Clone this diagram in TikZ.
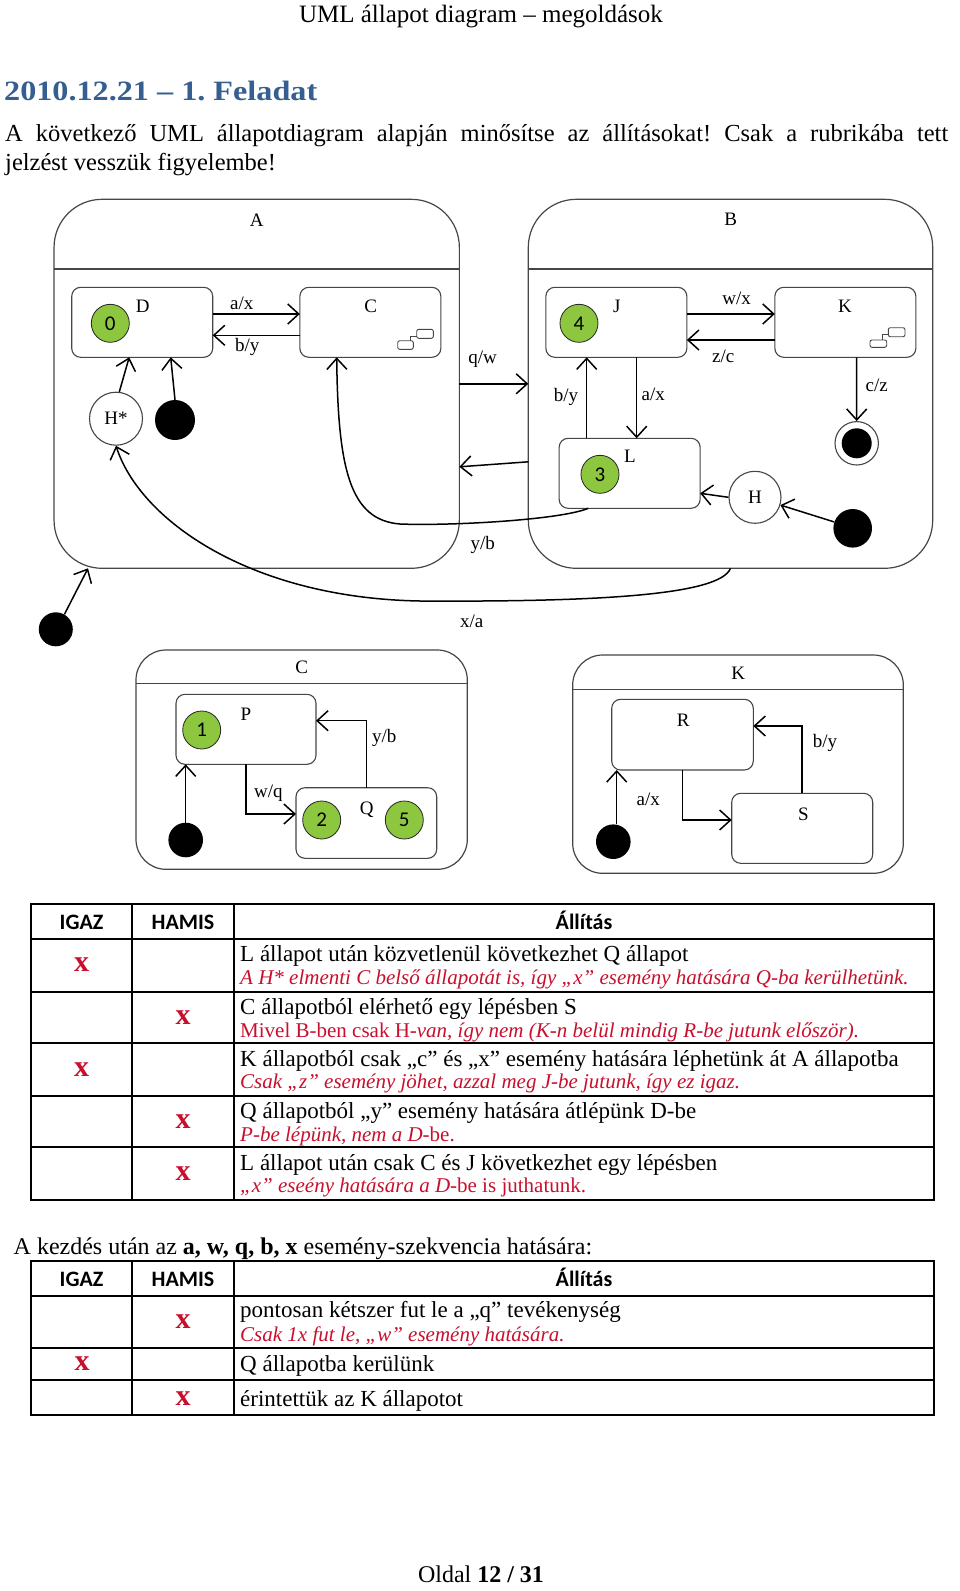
\documentclass[tikz,border=0pt]{standalone}
\usepackage{fontspec}
\setmainfont{Liberation Serif}
\newfontfamily\calib{Carlito}
\newfontfamily\titlef[FakeStretch=1.15]{Liberation Serif}
\usetikzlibrary{arrows.meta}
\newcommand\fsz[1]{\fontsize{#1pt}{#1pt}\selectfont}
\definecolor{ngreen}{RGB}{141,198,63}
\definecolor{xred}{RGB}{200,16,46}
\definecolor{tblue}{RGB}{54,95,145}
\definecolor{gline}{RGB}{70,70,70}
\frenchspacing
\begin{document}
\begin{tikzpicture}[x=1pt,y=-1pt,
  lbl/.style={inner sep=0pt, font=\fsz{19}},
  sbox/.style={draw=gline, line width=1.1pt, rounded corners=9pt, inner sep=0pt, outer sep=0pt, minimum width=141pt, minimum height=70pt},
  obox/.style={draw=gline, line width=1.2pt, rounded corners=#1, inner sep=0pt, outer sep=0pt},
  sep/.style={draw=gline, line width=1.2pt},
  num/.style={circle, draw=black!85, line width=0.8pt, fill=ngreen, minimum size=38pt, inner sep=0pt, font=\calib\fsz{21}},
  ini/.style={circle, fill=black, inner sep=0pt, minimum size=#1},
  hist/.style={circle, draw=gline, line width=1.1pt, fill=white, minimum size=53pt, inner sep=0pt, font=\fsz{19}},
  arr/.style={line width=1.5pt, -{Straight Barb[length=11pt,width=20pt,line width=1.5pt]}},
  icon/.style={draw=gline, line width=0.9pt, rounded corners=2pt},
  tline/.style={line width=2.2pt, draw=black},
  tt/.style={anchor=base west, inner sep=0pt, font=\fsz{23}},
  rt/.style={anchor=base west, inner sep=0pt, font=\itshape\fsz{21}, text=xred},
  xm/.style={inner sep=0pt, font=\bfseries\fsz{30}, text=xred},
  th/.style={anchor=base, inner sep=0pt, font=\calib\bfseries\fsz{22}}
]
\fill[white] (0,0) rectangle (960,1591);
\useasboundingbox (0,0) rectangle (960,1591);

% page texts
\node[anchor=base, inner sep=0pt, font=\fsz{25}] (hdr) at (481,22) {UML állapot diagram – megoldások};
\node[anchor=base west, inner sep=0pt, text=tblue, font=\titlef\bfseries\fsz{28}] (title) at (4,100) {2010.12.21 – 1. Feladat};
\node[anchor=base west, inner sep=0pt, font=\fsz{24.5}] (p1) at (5,141) {\makebox[943pt][s]{A következő UML állapotdiagram alapján minősítse az állításokat! Csak a rubrikába tett}};
\node[anchor=base west, inner sep=0pt, font=\fsz{24.5}] (p2) at (5,170) {jelzést vesszük figyelembe!};

% ===== A =====
\node[obox=48pt, minimum width=405.3pt, minimum height=369pt] (A) at (256.7,383.8) {};
\draw[sep] (54,269) -- (459.3,269);
\node[lbl] (Al) at (256.7,220) {A};
\node[sbox] (D) at (142.2,322.3) {};
\node[lbl] (Dl) at (142.7,306.7) {D};
\node[num] (n0) at (110.3,323.3) {0};
\node[sbox] (C) at (370.35,322.3) {};
\node[lbl] (Cl) at (370.7,306.7) {C};
\draw[icon] (397.7,340.7) rectangle (413.3,349.3);
\draw[icon] (416.7,329.3) rectangle (433.3,338.3);
\draw[gline, line width=0.9pt] (410,340.7) -- (410,336) -- (416.7,336);
\node[hist] (Hs) at (116,418.7) {H*};
\node[ini=40pt] (ia) at (175,420) {};
\draw[arr] (Hs.83) -- ([xshift=-13pt]D.south);
\draw[arr] (ia.north) -- ([xshift=28.5pt]D.south);
\draw[arr] ([yshift=8.3pt]D.east) -- ([yshift=8.3pt]C.west);
\draw[arr] ([yshift=-13pt]C.west) -- ([yshift=-13pt]D.east);
\node[lbl] (l1) at (241.7,303.3) {a/x};
\node[lbl] (l2) at (247.3,346.7) {b/y};

% ===== B =====
\node[obox=48pt, minimum width=404.4pt, minimum height=369pt] (B) at (730.5,383.8) {};
\draw[sep] (528.3,269) -- (932.7,269);
\node[lbl] (Bl) at (730.7,219.3) {B};
\node[sbox] (J) at (616.35,322.3) {};
\node[sbox] (K) at (845.35,322.3) {};
\node[sbox] (L) at (629.65,473.3) {};
\node[num] (n4) at (579,323.3) {4};
\node[num] (n3) at (600,474.3) {3};
\node[lbl] (Jl) at (616.7,306) {J};
\node[lbl] (Kl) at (845,306.7) {K};
\node[lbl] (Ll) at (630,456.7) {L};
\draw[icon] (870,340) rectangle (886.7,347.3);
\draw[icon] (888.3,327.7) rectangle (905,336.7);
\draw[gline, line width=0.9pt] (882,340) -- (882,334) -- (888.3,334);
\node[hist, minimum size=52pt] (Hh) at (755,497.3) {H};
\node[ini=38.6pt] (ib) at (852.7,528.3) {};
\node[circle, draw=gline, line width=1.1pt, minimum size=43.4pt, inner sep=0pt] (fin) at (856.7,443.3) {};
\node[ini=30pt] (finc) at (fin) {};
\draw[arr] ([yshift=8.3pt]J.east) -- ([yshift=8.3pt]K.west);
\draw[arr] ([yshift=-17.7pt]K.west) -- ([yshift=-17.7pt]J.east);
\draw[arr] ([xshift=20.35pt]J.south) -- ([xshift=20.35pt]J.south |- L.north);
\draw[arr] ([xshift=-42.95pt]L.north) -- ([xshift=-42.95pt]L.north |- J.south);
\draw[arr] ([xshift=11.35pt]K.south) -- (fin.north);
\draw[arr] (Hh.west) -- ([yshift=-20pt]L.east);
\draw[arr] (ib.161) -- (Hh.-17);
\node[lbl] (l3) at (736.7,298.3) {w/x};
\node[lbl] (l4) at (723.3,356.7) {z/c};
\node[lbl] (l5) at (653.3,394) {a/x};
\node[lbl] (l6) at (566,396.7) {b/y};
\node[lbl] (l7) at (876.7,385) {c/z};

% ===== between A and B =====
\draw[arr] (A.east) -- (B.west);
\node[lbl] (l8) at (482.7,359.3) {q/w};
\draw[arr] ([yshift=-78pt]B.west) -- ([yshift=-83pt]A.east);
\draw[arr] ([xshift=-41.35pt]L.south) .. controls (560,520) and (450,526) .. (400,524) .. controls (350,520) and (338,470) .. ([xshift=-33.65pt]C.south);
\node[lbl] (l9) at (482.7,545) {y/b};
\draw[arr] (B.south) .. controls (720,595) and (600,602) .. (420,601) .. controls (250,598) and (140,520) .. (Hs.south);
\node[lbl] (l10) at (471.7,621.7) {x/a};
\node[ini=34pt] (io) at (55.8,629.3) {};
\draw[arr] (io.60) -- ([xshift=-168.7pt]A.south);

% ===== C detail =====
\node[obox=30pt, minimum width=331.3pt, minimum height=219.3pt] (C2) at (301.65,759.65) {};
\draw[sep] (136,683.3) -- (467.3,683.3);
\node[lbl] (C2l) at (301.7,667.3) {C};
\node[sbox, minimum width=140pt] (P) at (246,729.3) {};
\node[sbox, minimum width=140.7pt, minimum height=70.6pt] (Q) at (366.35,823) {};
\node[num] (n1) at (201.7,730) {1};
\node[num] (n2) at (321.7,820) {2};
\node[num] (n5) at (404.3,820) {5};
\node[lbl] (Pl) at (246,714) {P};
\node[lbl] (Ql) at (366.7,809.3) {Q};
\node[ini=34.6pt] (ic) at (185.7,840) {};
\draw[arr] (P.south) |- ([yshift=9pt]Q.west);
\draw[arr] (Q.north) |- ([yshift=8.6pt]P.east);
\draw[arr] (ic.north) -- (ic.north |- P.south);
\node[lbl] (l11) at (268.3,793.3) {w/q};
\node[lbl] (l12) at (384.3,737.7) {y/b};

% ===== K detail =====
\node[obox=30pt, minimum width=330.6pt, minimum height=218.3pt] (K2) at (738,764.15) {};
\draw[sep] (572.7,689.3) -- (903.3,689.3);
\node[lbl] (K2l) at (738.3,673.3) {K};
\node[sbox, minimum width=141.6pt, minimum height=70.7pt] (R) at (682.5,734.65) {};
\node[sbox] (S) at (802.2,828.3) {};
\node[lbl] (Rl) at (683.3,720) {R};
\node[lbl] (Sl) at (803.3,814) {S};
\node[ini=34.6pt] (ik) at (613.3,841.7) {};
\draw[arr] (R.south) |- ([yshift=8.3pt]S.west);
\draw[arr] (S.north) |- ([yshift=8.65pt]R.east);
\draw[arr] ([xshift=3.4pt]ik.north) -- ([xshift=3.4pt]ik.north |- R.south);
\node[lbl] (l13) at (648.3,799.3) {a/x};
\node[lbl] (l14) at (825,743.3) {b/y};

% ===== Table 1 =====
\draw[tline] (30.8,904.3) rectangle (934.3,1200);
\foreach \yy in {939,991.7,1043.3,1095.7,1147.3} \draw[tline] (30.8,\yy) -- (934.3,\yy);
\foreach \xx in {132.1,234} \draw[tline] (\xx,904.3) -- (\xx,1200);
\node[th] (h1) at (81.5,929) {IGAZ};
\node[th] (h2) at (183,929) {HAMIS};
\node[th] (h3) at (584,929) {Állítás};

\node[tt] (r1a) at (240,961.7) {L állapot után közvetlenül következhet Q állapot};
\node[rt] (r1b) at (240,984.3) {A H* elmenti C belső állapotát is, így „x” esemény hatására Q-ba kerülhetünk.};
\node[xm] (x1) at (81.5,965) {x};

\node[tt] (r2a) at (240,1014.4) {C állapotból elérhető egy lépésben S};
\node[rt] (r2b) at (240,1037) {{\upshape Mivel B-ben csak H-}van, így nem (K-n belül mindig R-be jutunk először).};
\node[xm] (x2) at (183,1017.7) {x};

\node[tt] (r3a) at (240,1066) {K állapotból csak „c” és „x” esemény hatására léphetünk át A állapotba};
\node[rt] (r3b) at (240,1088.6) {Csak „z” esemény jöhet, azzal meg J-be jutunk, így ez igaz.};
\node[xm] (x3) at (81.5,1069.3) {x};

\node[tt] (r4a) at (240,1118.4) {Q állapotból „y” esemény hatására átlépünk D-be};
\node[rt] (r4b) at (240,1141) {P-be lépünk, nem a D-{\upshape be.}};
\node[xm] (x4) at (183,1121.7) {x};

\node[tt] (r5a) at (240,1170) {L állapot után csak C és J következhet egy lépésben};
\node[rt] (r5b) at (240,1192.6) {„x” eseény hatására a D-{\upshape be is juthatunk.}};
\node[xm] (x5) at (183,1173.3) {x};

% ===== Table 2 =====
\node[anchor=base west, inner sep=0pt, font=\fsz{24}] (intro) at (13.5,1254) {A kezdés után az \textbf{a, w, q, b, x} esemény-szekvencia hatására:};
\draw[tline] (30.6,1260.7) rectangle (933.9,1415);
\foreach \yy in {1295.7,1348.3,1380} \draw[tline] (30.6,\yy) -- (933.9,\yy);
\foreach \xx in {131.7,233.9} \draw[tline] (\xx,1260.7) -- (\xx,1415);
\node[th] (g1) at (81.5,1286) {IGAZ};
\node[th] (g2) at (183,1286) {HAMIS};
\node[th] (g3) at (584,1286) {Állítás};

\node[tt] (s1a) at (240,1317) {pontosan kétszer fut le a „q” tevékenység};
\node[rt] (s1b) at (240,1341) {Csak 1x fut le, „w” esemény hatására.};
\node[xm] (y1) at (183,1322) {x};
\node[tt] (s2a) at (240,1371) {Q állapotba kerülünk};
\node[xm] (y2) at (82,1364) {x};
\node[tt] (s3a) at (240,1406) {érintettük az K állapotot};
\node[xm] (y3) at (183,1398.5) {x};

\node[anchor=base, inner sep=0pt, font=\fsz{24}] (foot) at (481,1582) {Oldal \textbf{12 / 31}};
\end{tikzpicture}
\end{document}
